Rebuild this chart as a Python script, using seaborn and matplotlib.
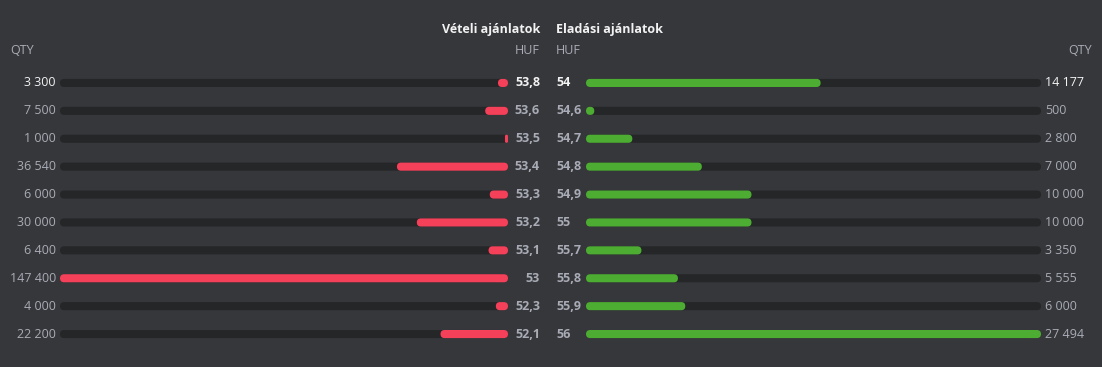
import matplotlib
matplotlib.use("Agg")
import matplotlib.pyplot as plt
from matplotlib.patches import FancyBboxPatch
import seaborn as sns
import pandas as pd

# order book data
bid_price = ["53,8", "53,6", "53,5", "53,4", "53,3", "53,2", "53,1", "53", "52,3", "52,1"]
bid_qty = [3300, 7500, 1000, 36540, 6000, 30000, 6400, 147400, 4000, 22200]
ask_price = ["54", "54,6", "54,7", "54,8", "54,9", "55", "55,7", "55,8", "55,9", "56"]
ask_qty = [14177, 500, 2800, 7000, 10000, 10000, 3350, 5555, 6000, 27494]

BG = "#36373b"
TRACK = "#252628"
RED = "#f5405a"
GREEN = "#4dad32"
GRAY = "#a9acb6"
WHITE = "#f2f2f2"

W, H = 1102, 367
BAR_H = 0.29  # in category units


def fmt_qty(v):
    return f"{v:,}".replace(",", " ")


def round_bars(ax, fig):
    """Swap the seaborn rectangles for pill shaped patches."""
    fig.canvas.draw()
    bbox = ax.get_window_extent()
    x0, x1 = ax.get_xlim()
    y0, y1 = ax.get_ylim()
    xpp = abs(x1 - x0) / bbox.width
    ypp = abs(y1 - y0) / bbox.height
    for p in list(ax.patches):
        x, y = p.get_x(), p.get_y()
        w, h = p.get_width(), p.get_height()
        if w < 0:
            x, w = x + w, -w
        r = min(h / ypp / 2 * xpp, w / 2)
        new = FancyBboxPatch((x, y), w, h,
                             boxstyle=f"round,pad=0,rounding_size={r}",
                             mutation_aspect=ypp / xpp,
                             facecolor=p.get_facecolor(), edgecolor="none",
                             zorder=p.get_zorder())
        p.remove()
        ax.add_patch(new)


def style_ax(ax):
    ax.set_facecolor(BG)
    for s in ax.spines.values():
        s.set_visible(False)
    ax.set_xticks([])
    ax.set_yticks([])
    ax.set_xlabel("")
    ax.set_ylabel("")


sns.set_theme(style="dark")
plt.rcParams["font.family"] = ["Open Sans", "DejaVu Sans"]

fig = plt.figure(figsize=(W / 100, H / 100), dpi=100, facecolor=BG)
ax_b = fig.add_axes([60 / W, 19 / H, 448 / W, 279 / H])
ax_a = fig.add_axes([586 / W, 19 / H, 455 / W, 279 / H])

bids = pd.DataFrame({"price": bid_price, "qty": bid_qty})
asks = pd.DataFrame({"price": ask_price, "qty": ask_qty})
bids["track"] = bids["qty"].max()
asks["track"] = asks["qty"].max()

for ax, df, col in [(ax_b, bids, RED), (ax_a, asks, GREEN)]:
    sns.barplot(data=df, x="track", y="price", orient="h", color=TRACK,
                width=BAR_H, saturation=1, ax=ax)
    sns.barplot(data=df, x="qty", y="price", orient="h", color=col,
                width=BAR_H, saturation=1, ax=ax)
    style_ax(ax)
    ax.set_ylim(len(df) - 0.5, -0.5)

ax_b.set_xlim(bids["qty"].max(), 0)
ax_a.set_xlim(0, asks["qty"].max())

round_bars(ax_b, fig)
round_bars(ax_a, fig)

fs = 9
tb = ax_b.get_yaxis_transform()
ta = ax_a.get_yaxis_transform()
for i in range(len(bid_price)):
    c = WHITE if i == 0 else GRAY
    ax_b.text(-4 / 448, i, fmt_qty(bid_qty[i]), transform=tb,
              ha="right", va="center", color=c, fontsize=fs)
    ax_b.text(1 + 32 / 448, i, bid_price[i], transform=tb,
              ha="right", va="center", color=c, fontsize=fs, fontweight="bold")
    ax_a.text(-30 / 455, i, ask_price[i], transform=ta,
              ha="left", va="center", color=c, fontsize=fs, fontweight="bold")
    ax_a.text(1 + 4 / 455, i, fmt_qty(ask_qty[i]), transform=ta,
              ha="left", va="center", color=c, fontsize=fs)

# headers
fig.text(540 / W, 1 - 30 / H, "Vételi ajánlatok", ha="right", va="center",
         color=WHITE, fontsize=fs, fontweight="bold")
fig.text(556 / W, 1 - 30 / H, "Eladási ajánlatok", ha="left", va="center",
         color=WHITE, fontsize=fs, fontweight="bold")
fig.text(10 / W, 1 - 50 / H, "QTY", ha="left", va="center", color=GRAY, fontsize=fs)
fig.text(540 / W, 1 - 50 / H, "HUF", ha="right", va="center", color=GRAY, fontsize=fs)
fig.text(556 / W, 1 - 50 / H, "HUF", ha="left", va="center", color=GRAY, fontsize=fs)
fig.text(1092 / W, 1 - 50 / H, "QTY", ha="right", va="center", color=GRAY, fontsize=fs)

fig.savefig("out.png", dpi=100, facecolor=BG)
